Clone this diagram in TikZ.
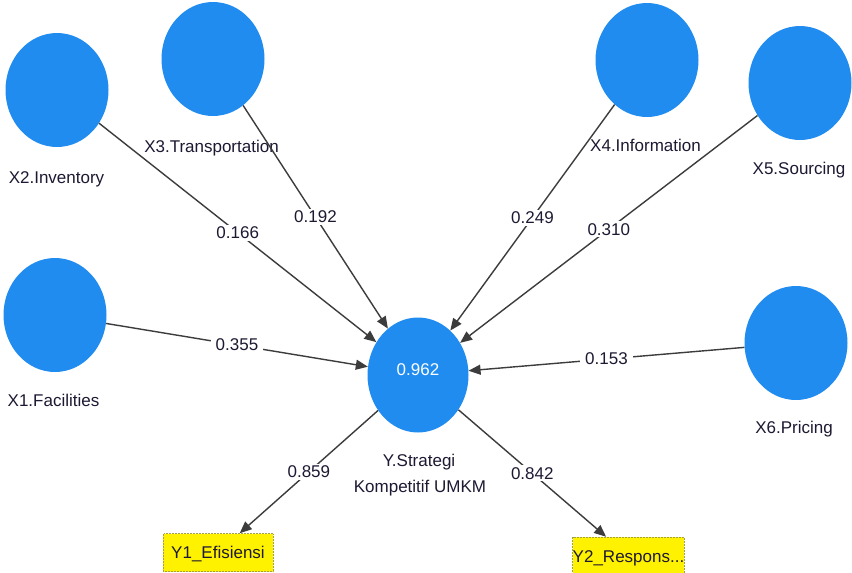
\documentclass[tikz,border=0pt]{standalone}
\usepackage{fontspec}
\setmainfont{Liberation Sans}
\usetikzlibrary{shapes.geometric,arrows.meta}
\definecolor{lvblue}{RGB}{33,140,240}
\definecolor{edgegray}{RGB}{60,60,60}
\definecolor{txt}{RGB}{30,25,50}
\begin{document}
\begin{tikzpicture}[x=1pt,y=-1pt,
  font=\fontsize{17}{20}\selectfont,
  latent/.style={ellipse, fill=lvblue, minimum width=103pt, minimum height=114pt, inner sep=0pt},
  ind/.style={rectangle, fill=yellow, draw=yellow!60!black, densely dotted, line width=0.5pt,
              minimum width=110pt, minimum height=38pt, inner sep=0pt,
              text height=12.5pt, text depth=0pt, text=txt},
  conn/.style={draw=edgegray, line width=1.4pt, -{Triangle[length=12pt,width=10pt]}},
  elabel/.style={fill=white, text=txt, inner xsep=5pt, inner ysep=2pt, pos=0.5},
  lbl/.style={text=txt, anchor=base, inner sep=0pt}]
\useasboundingbox (0,0) rectangle (852,573);
\fill[white] (0,0) rectangle (852,573);

% latent variables
\node[latent] (X1) at (55,315) {};
\node[latent] (X2) at (57,90) {};
\node[latent] (X3) at (213,59) {};
\node[latent] (X4) at (647,60) {};
\node[latent] (X5) at (800,83) {};
\node[latent] (X6) at (796,343) {};
\node[latent, minimum width=101pt, minimum height=115pt] (Y) at (418,375) {};
\node[lbl, text=white] (Yr2) at (418,375) {0.962};

% indicators
\node[ind] (Y1) at (218,552.5) {Y1\_Efisiensi};
\node[ind, minimum width=111pt] (Y2) at (628.5,556) {Y2\_Respons...};

% names
\node[lbl] (l2) at (56.5,183) {X2.Inventory};
\node[lbl] (l3) at (211.5,152) {X3.Transportation};
\node[lbl] (l4) at (645.5,151) {X4.Information};
\node[lbl] (l5) at (799,174) {X5.Sourcing};
\node[lbl] (l1) at (53.5,406) {X1.Facilities};
\node[lbl] (l6) at (794,433) {X6.Pricing};
\node[lbl] (ly1) at (419,466) {Y.Strategi};
\node[lbl] (ly2) at (420,492) {Kompetitif UMKM};

% paths
\draw[conn] (X1) -- node[elabel] {0.355} (Y);
\draw[conn] (X2) -- node[elabel] {0.166} (Y);
\draw[conn] (X3) -- node[elabel] {0.192} (Y);
\draw[conn] (X4) -- node[elabel] {0.249} (Y);
\draw[conn] (X5) -- node[elabel] {0.310} (Y);
\draw[conn] (X6) -- node[elabel] {0.153} (Y);
\draw[conn] (Y) -- node[elabel] {0.859} (Y1);
\draw[conn] (Y) -- node[elabel] {0.842} (Y2);
\end{tikzpicture}
\end{document}
